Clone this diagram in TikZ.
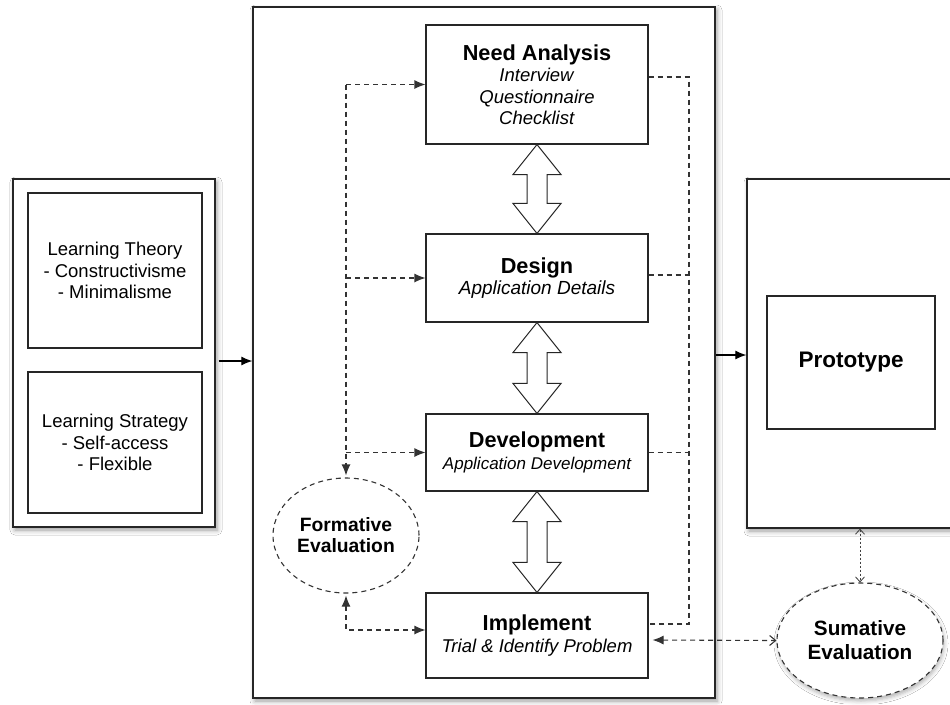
\documentclass[tikz,border=0pt]{standalone}
\usepackage{fontspec}
\setmainfont{Liberation Sans}
\usetikzlibrary{arrows.meta,calc,shapes.geometric,shadows.blur}
\begin{document}
\begin{tikzpicture}[x=1pt,y=-1pt,
  box/.style={draw=black!85, line width=1.1pt, fill=white, inner sep=0pt, align=center, rectangle},
  outerbox/.style={box, line width=1.3pt, blur shadow={shadow xshift=2pt, shadow yshift=-3pt, shadow blur radius=5pt, shadow opacity=40}},
  dl/.style={draw=black!80, line width=1.1pt, dash pattern=on 5pt off 4pt},
  dotl/.style={draw=black!75, line width=0.8pt, dash pattern=on 2pt off 2pt},
  hollow/.style={draw=black!85, line width=1pt, fill=white, line join=miter},
  >={Latex[length=11pt,width=9pt]},
  lfont/.style={font=\fontsize{18.5}{21.5}\selectfont},
  efont/.style={font=\bfseries\fontsize{19.3}{21}\selectfont},
]
\clip (0,0) rectangle (950,704);
\fill[white] (0,0) rectangle (950,704);

% main process box
\node[outerbox, minimum width=462pt, minimum height=691pt] (main) at (484,352.5) {};

% left input box
\node[outerbox, minimum width=202pt, minimum height=348pt] (lo) at (114,353) {};
\node[box, lfont, minimum width=174pt, minimum height=155pt] (lt) at (115,270.5)
  {Learning Theory\\- Constructivisme\\- Minimalisme};
\node[box, lfont, minimum width=174pt, minimum height=141pt] (ls) at (115,442.5)
  {Learning Strategy\\- Self-access\\- Flexible};

% right output box
\node[outerbox, minimum width=210pt, minimum height=349pt] (po) at (852,353.5) {};
\node[box, minimum width=168pt, minimum height=133pt, font=\bfseries\fontsize{22.5}{24}\selectfont] (pi) at (851,362.5) {Prototype};

% stage boxes
\node[box, lfont, minimum width=222pt, minimum height=119pt] (na) at (537,84.5)
  {{\bfseries\fontsize{21.7}{21.5}\selectfont Need Analysis}\\\textit{Interview}\\\textit{Questionnaire}\\\textit{Checklist}};
\node[box, lfont, minimum width=222pt, minimum height=88pt] (de) at (537,278)
  {{\bfseries\fontsize{21.7}{21.5}\selectfont Design}\\{\itshape\fontsize{19}{21.5}\selectfont Application Details}};
\node[box, lfont, minimum width=222pt, minimum height=77pt] (dv) at (537,452.5)
  {{\bfseries\fontsize{21.7}{21.5}\selectfont Development}\\{\itshape\fontsize{17}{21.5}\selectfont Application Development}};
\node[box, lfont, minimum width=222pt, minimum height=85pt] (im) at (537,635.5)
  {{\bfseries\fontsize{21.7}{21.5}\selectfont Implement}\\\textit{Trial \& Identify Problem}};

% evaluations
\node[ellipse, dl, fill=white, inner sep=0pt, minimum width=146pt, minimum height=115pt, align=center, efont] (fe) at (346,535.5)
  {Formative\\Evaluation};
\node[ellipse, dl, fill=white, inner sep=0pt, minimum width=166pt, minimum height=115pt, align=center,
  font=\bfseries\fontsize{20.7}{24}\selectfont,
  blur shadow={shadow xshift=1pt, shadow yshift=-3pt, shadow blur radius=4pt, shadow opacity=30}] (se) at (860,640.5)
  {Sumative\\Evaluation};

% hollow double arrows
\newcommand{\dblarrow}[2]{%
  \draw[hollow] (#1.south) -- ++(24,30) -- ++(-14,0) -- ($(#2.north)+(10,-30)$) -- ++(14,0)
    -- (#2.north) -- ++(-24,-30) -- ++(14,0) -- ($(#1.south)+(-10,30)$) -- ++(-14,0) -- cycle;}
\dblarrow{na}{de}
\dblarrow{de}{dv}
\dblarrow{dv}{im}

% solid arrows between big boxes
\draw[line width=1.1pt, ->] ([yshift=-8pt]lo.east) ++(3,0) -- ([yshift=-8pt]lo.east -| main.west);
\draw[line width=1.1pt, ->] ([yshift=-2.5pt]main.east) -- ([yshift=-2.5pt]main.east -| po.west);

% left dashed feedback lines
\draw[dl, ->] (fe.north |- na.west) -- (na.west);
\draw[dl, ->] (fe.north |- na.west) -- ([yshift=2pt]fe.north);
\draw[dl, ->] (fe.north |- de.west) -- (de.west);
\draw[dl, ->] (fe.north |- dv.west) -- (dv.west);
\draw[dl, <->] ([yshift=-2pt]fe.south) -- (fe.south |- 0,630) -- ([yshift=5.5pt]im.west);

% right dashed collector line
\coordinate (rtop) at (689,77);
\coordinate (rbot) at (689,624);
\draw[dl] ([yshift=7.5pt]na.east) -- (rtop) -- (rbot) -- ([yshift=11.5pt]im.east);
\draw[dl] ([yshift=3pt]de.east) -- ([yshift=3pt]de.east -| rtop);
\draw[dl] (dv.east) -- (dv.east -| rtop);

% implement <-> sumative
\draw[dl, {Latex[length=11pt,width=9pt]}-{Straight Barb[length=6pt,width=10pt]}] ([yshift=-4.5pt,xshift=4pt]im.east) -- (se.west);

% sumative <-> prototype
\draw[dotl, {Straight Barb[length=5pt,width=9pt]}-{Straight Barb[length=5pt,width=9pt]}] (po.south -| se.north) -- (se.north);
\end{tikzpicture}
\end{document}
